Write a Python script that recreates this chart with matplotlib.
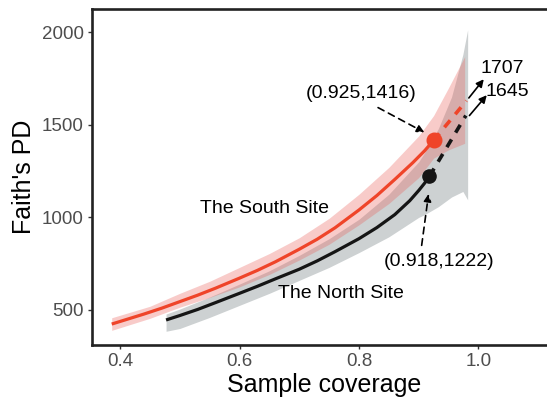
import matplotlib
matplotlib.use("Agg")
import matplotlib.pyplot as plt
import numpy as np

plt.rcParams["font.family"] = ["Liberation Sans", "DejaVu Sans"]

# South site rarefaction curve (red)
south_x = [0.386, 0.41, 0.44, 0.47, 0.5, 0.53, 0.56, 0.6, 0.63, 0.66, 0.7,
           0.73, 0.76, 0.8, 0.83, 0.86, 0.89, 0.91, 0.925]
south_y = [424, 448, 478, 510, 545, 580, 618, 672, 714, 760, 828,
           882, 944, 1040, 1118, 1205, 1295, 1360, 1416]
south_band_x = [0.386, 0.45, 0.5, 0.55, 0.6, 0.65, 0.7, 0.75, 0.8, 0.85, 0.9,
                0.925, 0.95, 0.977]
south_band_hi = [458, 520, 590, 655, 730, 805, 890, 995, 1125, 1270, 1440,
                 1550, 1700, 1868]
south_band_lo = [390, 455, 515, 568, 625, 692, 770, 855, 960, 1075, 1215,
                 1320, 1365, 1400]
south_ext_x = [0.925, 0.980]
south_ext_y = [1416, 1630]

# North site rarefaction curve (black)
north_x = [0.477, 0.5, 0.53, 0.56, 0.6, 0.63, 0.66, 0.7, 0.73, 0.76, 0.8,
           0.83, 0.86, 0.885, 0.9, 0.91, 0.918]
north_y = [446, 470, 503, 540, 590, 628, 668, 720, 765, 815, 885,
           945, 1015, 1090, 1145, 1185, 1222]
north_band_x = [0.477, 0.5, 0.55, 0.6, 0.65, 0.7, 0.75, 0.8, 0.85, 0.9, 0.91,
                0.933, 0.955, 0.974, 0.982]
north_band_hi = [478, 505, 570, 640, 712, 795, 885, 990, 1125, 1300, 1350,
                 1480, 1650, 1880, 2013]
north_band_lo = [385, 400, 460, 525, 590, 660, 730, 810, 895, 1000, 1015,
                 1058, 1110, 1140, 1095]
north_ext_x = [0.918, 0.979]
north_ext_y = [1222, 1550]

point_labels = ["(0.925,1416)", "(0.918,1222)"]
ext_labels = ["1707", "1645"]

RED = "#ef4429"
BLACK = "#151515"

fig = plt.figure(figsize=(5.47, 4.01), dpi=100)
ax = fig.add_axes([0.1682, 0.1397, 0.8483, 0.8372])

ax.fill_between(north_band_x, north_band_lo, north_band_hi, color="#cdd1d2", lw=0)
ax.fill_between(south_band_x, south_band_lo, south_band_hi, color="#eb625c", alpha=0.33, lw=0)

ax.plot(north_x, north_y, color=BLACK, lw=2.3, solid_capstyle="butt")
ax.plot(south_x, south_y, color=RED, lw=2.3, solid_capstyle="butt")
ax.plot(north_ext_x, north_ext_y, color=BLACK, lw=2.6, ls=(0, (2.5, 2.2)))
ax.plot(south_ext_x, south_ext_y, color=RED, lw=2.6, ls=(0, (2.5, 2.2)))
ax.plot(south_x[-1], south_y[-1], "o", color=RED, ms=10.5)
ax.plot(north_x[-1], north_y[-1], "o", color=BLACK, ms=9.5)

# labels
ax.text(0.642, 1050, "The South Site", fontsize=14, ha="center", va="center")
ax.text(0.77, 590, "The North Site", fontsize=14, ha="center", va="center")
ax.text(0.803, 1670, point_labels[0], fontsize=14, ha="center", va="center")
ax.text(0.934, 760, point_labels[1], fontsize=14, ha="center", va="center")
ax.text(1.040, 1803, ext_labels[0], fontsize=14, ha="center", va="center")
ax.text(1.048, 1679, ext_labels[1], fontsize=14, ha="center", va="center")

dash_arrow = dict(arrowstyle="-|>", color="black", lw=1.2, ls=(0, (4, 3)),
                  mutation_scale=11, shrinkA=0, shrinkB=0)
solid_arrow = dict(arrowstyle="-|>", color="black", lw=1.2,
                   mutation_scale=11, shrinkA=0, shrinkB=0)
ax.annotate("", xy=(0.9096, 1459), xytext=(0.832, 1593), arrowprops=dash_arrow)
ax.annotate("", xy=(0.9166, 1127), xytext=(0.905, 849), arrowprops=dash_arrow)
ax.annotate("", xy=(1.009, 1746), xytext=(0.984, 1645), arrowprops=solid_arrow)
ax.annotate("", xy=(1.014, 1660), xytext=(0.985, 1550), arrowprops=solid_arrow)

ax.set_xlim(0.353, 1.13)
ax.set_ylim(311, 2124)
ax.set_xticks([0.4, 0.6, 0.8, 1.0])
ax.set_xticklabels(["0.4", "0.6", "0.8", "1.0"])
ax.set_yticks([500, 1000, 1500, 2000])
ax.tick_params(axis="both", labelsize=13.5, labelcolor="#4d4d4d", color="#333333",
               length=3, width=1, pad=3)
for s in ax.spines.values():
    s.set_linewidth(1.9)
    s.set_color("#222222")

ax.set_xlabel("Sample coverage", fontsize=18, labelpad=2)
ax.set_ylabel("Faith's PD", fontsize=18, labelpad=4)

fig.savefig("out.png", dpi=100)
